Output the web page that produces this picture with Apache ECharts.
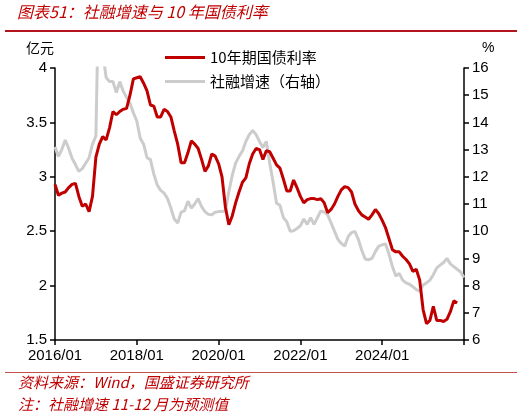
<!DOCTYPE html>
<html>
<head>
<meta charset="utf-8">
<script src="https://cdn.jsdelivr.net/npm/echarts@6/dist/echarts.min.js"></script>
<style>
  html, body { margin: 0; padding: 0; background: #fff; }
  #chart { width: 526px; height: 419px; }
</style>
</head>
<body>
<div id="chart"></div>
<script>
// months 2016/01 .. 2026/01
const months = [];
for (let y = 2016; y <= 2026; y++) {
  for (let m = 1; m <= 12; m++) {
    if (y === 2026 && m > 1) break;
    months.push(y + '/' + (m < 10 ? '0' + m : m));
  }
}
const xTickLabels = ['2016/01', '2018/01', '2020/01', '2022/01', '2024/01'];

// 10年期国债利率 (left axis)
const bondYield = [
  2.93, 2.83, 2.85, 2.86, 2.90, 2.93, 2.94, 2.82, 2.73, 2.75, 2.68, 2.82,
  3.18, 3.30, 3.37, 3.34, 3.45, 3.60, 3.57, 3.60, 3.62, 3.63, 3.75, 3.90,
  3.91, 3.92, 3.86, 3.79, 3.66, 3.65, 3.55, 3.55, 3.62, 3.60, 3.55, 3.42,
  3.30, 3.13, 3.13, 3.22, 3.33, 3.30, 3.26, 3.16, 3.05, 3.10, 3.21, 3.19,
  3.12, 3.00, 2.72, 2.56, 2.64, 2.76, 2.86, 2.95, 2.99, 3.12, 3.21, 3.26,
  3.25, 3.16, 3.24, 3.23, 3.17, 3.11, 3.08, 2.98, 2.87, 2.87, 2.97, 2.90,
  2.82, 2.76, 2.79, 2.80, 2.80, 2.79, 2.80, 2.76, 2.67, 2.70, 2.75, 2.82,
  2.88, 2.91, 2.90, 2.86, 2.75, 2.69, 2.65, 2.63, 2.61, 2.65, 2.70, 2.66,
  2.60, 2.53, 2.43, 2.33, 2.31, 2.31, 2.27, 2.24, 2.20, 2.13, 2.15, 2.05,
  1.78, 1.65, 1.68, 1.81, 1.68, 1.68, 1.67, 1.69, 1.76, 1.86, 1.84
];

// 社融增速 % (right axis)
const tsfGrowth = [
  13.1, 12.75, 13.0, 13.35, 13.05, 12.68, 12.45, 12.2, 12.3, 12.5, 12.7, 13.2,
  13.5, 20.0, 16.6, 15.65, 15.5, 15.5, 15.1, 15.5, 15.15, 14.92, 14.7, 14.35,
  14.05, 13.42, 13.2, 12.7, 12.63, 12.1, 11.7, 11.5, 11.4, 11.2, 10.85, 10.45,
  10.3, 10.7, 10.75, 11.1, 10.85, 11.0, 11.2, 10.9, 10.72, 10.62, 10.6, 10.7,
  10.72, 10.72, 10.75, 11.45, 12.05, 12.5, 12.75, 12.95, 13.3, 13.55, 13.7, 13.55,
  13.3, 13.08, 13.3, 12.5, 11.8, 11.03, 10.95, 10.5, 10.35, 10.0, 10.02, 10.1,
  10.2, 10.45, 10.25, 10.5, 10.25, 10.5, 10.75, 10.7, 10.6, 10.3, 10.0, 9.7,
  9.55, 9.45, 9.8, 9.95, 9.99, 9.7, 9.3, 8.98, 8.95, 9.0, 9.25, 9.45,
  9.5, 9.53, 9.15, 8.7, 8.35, 8.45, 8.2, 8.1, 8.05, 7.96, 7.85, 7.8,
  8.02, 8.1, 8.2, 8.4, 8.65, 8.75, 8.85, 9.0, 8.8, 8.7, 8.6, 8.5,
  8.3
];

const red = '#C00000';
const grey = '#CCCCCC';
const numFont = '"Liberation Sans", Arial, sans-serif';
const cjkFont = '"Noto Sans CJK SC", "Liberation Sans", sans-serif';

const chart = echarts.init(document.getElementById('chart'), null, { renderer: 'canvas' });

chart.setOption({
  animation: false,
  backgroundColor: '#fff',
  grid: { left: 55, right: 62, top: 68, bottom: 79 },
  legend: {
    orient: 'vertical',
    left: 160,
    top: 45,
    itemWidth: 40,
    itemHeight: 14,
    itemGap: 9,
    data: [
      { name: '10年期国债利率', icon: 'path://M0,6h40v3h-40z' },
      { name: '社融增速（右轴）', icon: 'path://M0,6h40v3h-40z' }
    ],
    textStyle: { fontFamily: cjkFont, fontSize: 15, color: '#000', lineHeight: 14 }
  },
  xAxis: {
    type: 'category',
    data: months,
    boundaryGap: false,
    axisLine: { lineStyle: { color: '#000', width: 1.5 } },
    axisTick: { interval: 23, length: 5, lineStyle: { color: '#000', width: 1.5 } },
    axisLabel: {
      interval: 23,
      margin: 8,
      color: '#000',
      fontFamily: numFont,
      fontSize: 15,
      formatter: v => xTickLabels.includes(v) ? v : ''
    },
    splitLine: { show: false }
  },
  yAxis: [
    {
      type: 'value',
      min: 1.5, max: 4, interval: 0.5,
      axisLine: { show: true, lineStyle: { color: '#000', width: 1.5 } },
      axisTick: { show: true, length: 5, lineStyle: { color: '#000', width: 1.5 } },
      axisLabel: { color: '#000', fontFamily: numFont, fontSize: 15, margin: 8 },
      splitLine: { show: false }
    },
    {
      type: 'value',
      position: 'right',
      min: 6, max: 16, interval: 1,
      axisLine: { show: true, lineStyle: { color: '#000', width: 1.5 } },
      axisTick: { show: true, length: 5, lineStyle: { color: '#000', width: 1.5 } },
      axisLabel: { color: '#000', fontFamily: numFont, fontSize: 15, margin: 8 },
      splitLine: { show: false }
    }
  ],
  series: [
    {
      name: '社融增速（右轴）',
      type: 'line',
      yAxisIndex: 1,
      data: tsfGrowth,
      showSymbol: false,
      clip: true,
      color: grey,
      lineStyle: { color: grey, width: 3 },
      z: 2
    },
    {
      name: '10年期国债利率',
      type: 'line',
      yAxisIndex: 0,
      data: bondYield,
      showSymbol: false,
      clip: true,
      color: red,
      lineStyle: { color: red, width: 3 },
      z: 3
    }
  ],
  graphic: [
    {
      type: 'text', left: 17, top: 4,
      style: { text: '图表51：社融增速与 10 年国债利率', fill: red, font: 'italic 16px ' + cjkFont }
    },
    { type: 'rect', shape: { x: 5, y: 30, width: 512, height: 2 }, style: { fill: '#B3141E' } },
    {
      type: 'text', left: 26, top: 41,
      style: { text: '亿元', fill: '#000', font: '14px ' + cjkFont }
    },
    {
      type: 'text', left: 482, top: 41,
      style: { text: '%', fill: '#000', font: '14px ' + numFont }
    },
    { type: 'rect', shape: { x: 5, y: 372, width: 512, height: 1 }, style: { fill: '#C0504D' } },
    {
      type: 'text', left: 18, top: 375,
      style: { text: '资料来源：Wind，国盛证券研究所', fill: red, font: 'italic 15px ' + cjkFont }
    },
    {
      type: 'text', left: 18, top: 397,
      style: { text: '注：社融增速 11-12 月为预测值', fill: red, font: 'italic 15px ' + cjkFont }
    }
  ]
});
</script>
</body>
</html>
